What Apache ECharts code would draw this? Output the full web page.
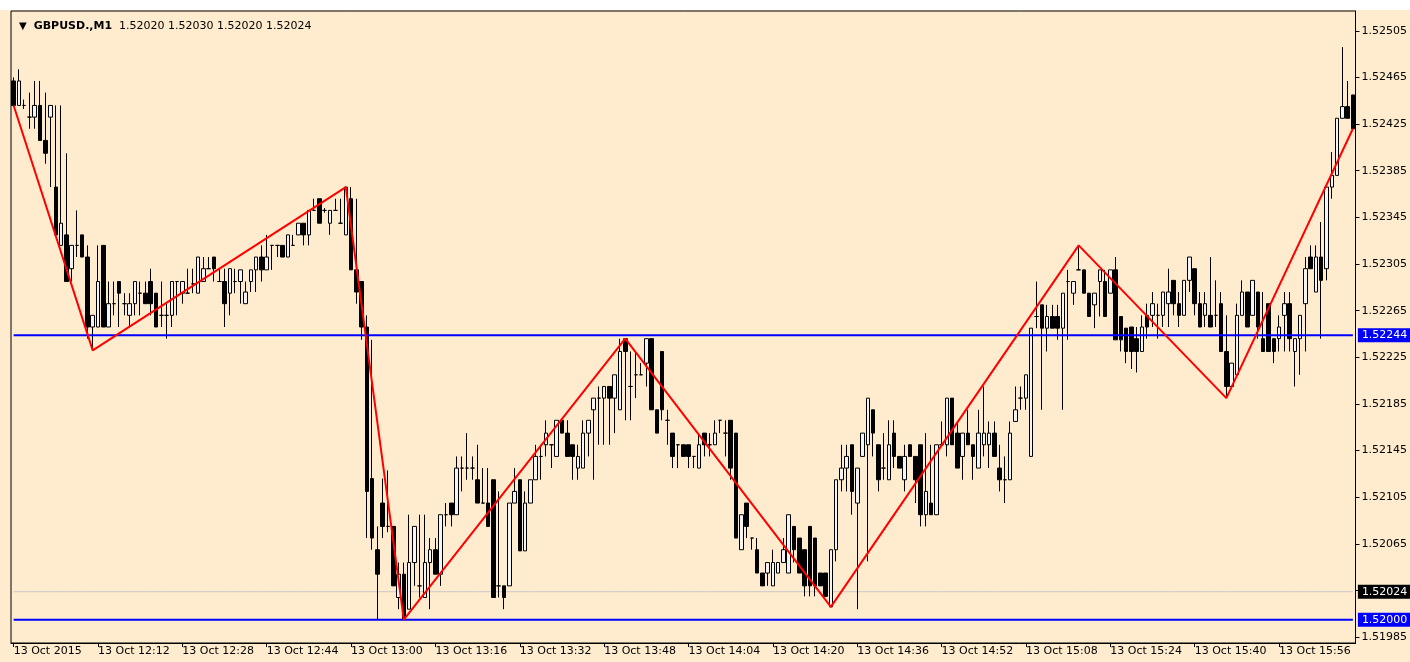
<!DOCTYPE html>
<html lang="en">
  <head>
    <meta charset="UTF-8">
    <title>GBPUSD M1</title>
    <script src="https://cdn.jsdelivr.net/npm/echarts@6/dist/echarts.min.js"></script>
    <style>
      html, body { margin: 0; padding: 0; background: #ffffff; }
    </style>
  </head>
  <body>
    <div id="main" style="width: 1410px;height:662px;"></div>
    <script type="text/javascript">
      // one bar per minute, 13 Oct 2015 11:56 .. 16:10
      var openP = [
        1.52462,1.52441,1.52441,1.52431,1.52431,1.52441,1.52411,1.52431,1.52371,1.52321,
        1.52330,1.52301,1.52321,1.52330,1.52311,1.52251,1.52251,1.52321,1.52251,1.52271,
        1.52290,1.52271,1.52261,1.52271,1.52280,1.52280,1.52290,1.52280,1.52261,1.52261,
        1.52261,1.52290,1.52280,1.52280,1.52288,1.52280,1.52290,1.52301,1.52311,1.52290,
        1.52290,1.52280,1.52290,1.52290,1.52271,1.52290,1.52300,1.52311,1.52300,1.52321,
        1.52321,1.52321,1.52311,1.52321,1.52330,1.52340,1.52330,1.52351,1.52361,1.52351,
        1.52340,1.52351,1.52340,1.52330,1.52361,1.52300,1.52290,1.52251,1.52121,1.52060,
        1.52100,1.52080,1.52080,1.52019,1.52039,1.52009,1.52049,1.52029,1.52019,1.52049,
        1.52060,1.52039,1.52090,1.52100,1.52090,1.52130,1.52130,1.52130,1.52120,1.52100,
        1.52100,1.52120,1.52029,1.52029,1.52029,1.52100,1.52120,1.52059,1.52100,1.52120,
        1.52140,1.52150,1.52150,1.52140,1.52171,1.52160,1.52150,1.52130,1.52130,1.52160,
        1.52180,1.52190,1.52190,1.52200,1.52190,1.52180,1.52241,1.52200,1.52210,1.52210,
        1.52220,1.52241,1.52180,1.52230,1.52171,1.52160,1.52150,1.52150,1.52150,1.52140,
        1.52130,1.52160,1.52150,1.52150,1.52171,1.52160,1.52171,1.52160,1.52060,1.52100,
        1.52070,1.52060,1.52040,1.52040,1.52029,1.52040,1.52049,1.52040,1.52080,1.52070,
        1.52060,1.52080,1.52070,1.52040,1.52040,1.52011,1.52060,1.52120,1.52130,1.52150,
        1.52100,1.52140,1.52150,1.52180,1.52150,1.52130,1.52120,1.52160,1.52140,1.52120,
        1.52150,1.52140,1.52150,1.52090,1.52100,1.52090,1.52150,1.52150,1.52190,1.52160,
        1.52140,1.52160,1.52150,1.52130,1.52150,1.52150,1.52160,1.52130,1.52120,1.52120,
        1.52170,1.52190,1.52190,1.52140,1.52260,1.52270,1.52250,1.52260,1.52260,1.52250,
        1.52290,1.52280,1.52300,1.52300,1.52280,1.52270,1.52290,1.52290,1.52280,1.52300,
        1.52260,1.52250,1.52251,1.52241,1.52230,1.52261,1.52261,1.52261,1.52261,1.52271,
        1.52291,1.52271,1.52261,1.52291,1.52301,1.52271,1.52261,1.52261,1.52261,1.52271,
        1.52230,1.52200,1.52210,1.52261,1.52281,1.52261,1.52281,1.52241,1.52271,1.52241,
        1.52241,1.52261,1.52271,1.52230,1.52241,1.52271,1.52311,1.52281,1.52311,1.52301,
        1.52371,1.52381,1.52430,1.52440,1.52450
      ];
      var highP = [
        1.52465,1.52472,1.52446,1.52452,1.52462,1.52462,1.52452,1.52441,1.52441,1.52441,
        1.52400,1.52321,1.52351,1.52330,1.52321,1.52261,1.52321,1.52321,1.52290,1.52290,
        1.52290,1.52280,1.52280,1.52290,1.52290,1.52290,1.52301,1.52280,1.52290,1.52271,
        1.52290,1.52290,1.52290,1.52301,1.52301,1.52311,1.52311,1.52311,1.52311,1.52301,
        1.52301,1.52301,1.52301,1.52300,1.52290,1.52300,1.52311,1.52321,1.52330,1.52321,
        1.52321,1.52321,1.52330,1.52330,1.52340,1.52340,1.52351,1.52361,1.52361,1.52353,
        1.52351,1.52361,1.52361,1.52371,1.52371,1.52361,1.52290,1.52261,1.52240,1.52080,
        1.52121,1.52128,1.52080,1.52049,1.52049,1.52090,1.52080,1.52090,1.52090,1.52070,
        1.52070,1.52090,1.52100,1.52100,1.52140,1.52140,1.52160,1.52140,1.52150,1.52130,
        1.52130,1.52120,1.52110,1.52029,1.52100,1.52130,1.52120,1.52110,1.52120,1.52150,
        1.52150,1.52171,1.52150,1.52171,1.52171,1.52171,1.52150,1.52150,1.52171,1.52171,
        1.52190,1.52200,1.52200,1.52200,1.52210,1.52241,1.52241,1.52230,1.52230,1.52220,
        1.52241,1.52241,1.52180,1.52230,1.52180,1.52160,1.52150,1.52150,1.52150,1.52140,
        1.52160,1.52160,1.52160,1.52171,1.52171,1.52171,1.52171,1.52160,1.52090,1.52100,
        1.52070,1.52070,1.52040,1.52049,1.52060,1.52049,1.52070,1.52090,1.52080,1.52070,
        1.52060,1.52080,1.52070,1.52040,1.52040,1.52060,1.52120,1.52150,1.52150,1.52150,
        1.52130,1.52160,1.52190,1.52180,1.52150,1.52160,1.52171,1.52171,1.52140,1.52150,
        1.52150,1.52140,1.52150,1.52160,1.52150,1.52150,1.52170,1.52190,1.52190,1.52170,
        1.52160,1.52180,1.52150,1.52180,1.52200,1.52170,1.52170,1.52150,1.52140,1.52170,
        1.52200,1.52200,1.52210,1.52250,1.52290,1.52270,1.52270,1.52270,1.52270,1.52280,
        1.52300,1.52290,1.52321,1.52300,1.52280,1.52280,1.52300,1.52300,1.52300,1.52311,
        1.52260,1.52250,1.52251,1.52251,1.52261,1.52271,1.52281,1.52271,1.52281,1.52301,
        1.52291,1.52281,1.52291,1.52311,1.52301,1.52281,1.52281,1.52311,1.52291,1.52281,
        1.52261,1.52220,1.52271,1.52291,1.52281,1.52291,1.52281,1.52281,1.52271,1.52241,
        1.52261,1.52281,1.52281,1.52241,1.52261,1.52311,1.52321,1.52321,1.52341,1.52371,
        1.52401,1.52430,1.52491,1.52462,1.52450
      ];
      var lowP = [
        1.52441,1.52441,1.52438,1.52421,1.52421,1.52411,1.52391,1.52371,1.52330,1.52321,
        1.52290,1.52290,1.52311,1.52311,1.52241,1.52231,1.52251,1.52251,1.52251,1.52261,
        1.52251,1.52261,1.52251,1.52261,1.52261,1.52271,1.52261,1.52251,1.52251,1.52241,
        1.52251,1.52261,1.52271,1.52280,1.52280,1.52280,1.52290,1.52301,1.52290,1.52290,
        1.52251,1.52261,1.52280,1.52271,1.52271,1.52281,1.52281,1.52290,1.52300,1.52300,
        1.52311,1.52311,1.52311,1.52321,1.52330,1.52321,1.52321,1.52351,1.52340,1.52349,
        1.52330,1.52351,1.52340,1.52330,1.52300,1.52271,1.52240,1.52070,1.52060,1.52000,
        1.52070,1.52075,1.52029,1.52009,1.52000,1.52009,1.52029,1.52019,1.52019,1.52009,
        1.52039,1.52029,1.52080,1.52080,1.52090,1.52110,1.52120,1.52120,1.52100,1.52100,
        1.52080,1.52019,1.52019,1.52009,1.52029,1.52100,1.52059,1.52059,1.52100,1.52120,
        1.52120,1.52140,1.52130,1.52140,1.52160,1.52140,1.52120,1.52120,1.52130,1.52140,
        1.52120,1.52150,1.52150,1.52150,1.52160,1.52180,1.52171,1.52171,1.52190,1.52210,
        1.52200,1.52180,1.52160,1.52171,1.52150,1.52130,1.52130,1.52140,1.52130,1.52130,
        1.52130,1.52140,1.52140,1.52150,1.52160,1.52140,1.52120,1.52070,1.52060,1.52070,
        1.52060,1.52040,1.52029,1.52029,1.52029,1.52040,1.52049,1.52040,1.52049,1.52040,
        1.52020,1.52020,1.52020,1.52029,1.52020,1.52011,1.52050,1.52110,1.52110,1.52090,
        1.52009,1.52140,1.52050,1.52140,1.52110,1.52120,1.52120,1.52130,1.52130,1.52110,
        1.52140,1.52100,1.52080,1.52080,1.52090,1.52090,1.52150,1.52140,1.52150,1.52130,
        1.52120,1.52150,1.52120,1.52130,1.52140,1.52130,1.52140,1.52110,1.52100,1.52120,
        1.52170,1.52180,1.52180,1.52140,1.52250,1.52180,1.52230,1.52250,1.52240,1.52180,
        1.52240,1.52270,1.52300,1.52280,1.52260,1.52250,1.52260,1.52260,1.52280,1.52240,
        1.52230,1.52220,1.52215,1.52212,1.52230,1.52241,1.52251,1.52241,1.52251,1.52251,
        1.52261,1.52251,1.52261,1.52281,1.52261,1.52251,1.52251,1.52251,1.52251,1.52230,
        1.52190,1.52200,1.52210,1.52261,1.52251,1.52261,1.52241,1.52230,1.52230,1.52220,
        1.52230,1.52230,1.52230,1.52200,1.52210,1.52230,1.52301,1.52281,1.52241,1.52291,
        1.52361,1.52381,1.52430,1.52430,1.52421
      ];
      var closeP = [
        1.52441,1.52462,1.52441,1.52431,1.52441,1.52411,1.52400,1.52441,1.52330,1.52340,
        1.52290,1.52321,1.52321,1.52311,1.52251,1.52261,1.52290,1.52251,1.52271,1.52271,
        1.52280,1.52271,1.52271,1.52290,1.52280,1.52271,1.52271,1.52251,1.52261,1.52261,
        1.52290,1.52290,1.52290,1.52280,1.52288,1.52311,1.52301,1.52301,1.52301,1.52290,
        1.52271,1.52301,1.52290,1.52300,1.52281,1.52300,1.52311,1.52300,1.52311,1.52321,
        1.52321,1.52311,1.52330,1.52321,1.52340,1.52330,1.52351,1.52351,1.52340,1.52351,
        1.52351,1.52351,1.52340,1.52371,1.52300,1.52281,1.52251,1.52110,1.52070,1.52039,
        1.52080,1.52080,1.52029,1.52039,1.52000,1.52049,1.52080,1.52029,1.52049,1.52060,
        1.52039,1.52090,1.52090,1.52090,1.52130,1.52130,1.52130,1.52130,1.52100,1.52100,
        1.52080,1.52019,1.52029,1.52019,1.52100,1.52110,1.52059,1.52100,1.52120,1.52140,
        1.52140,1.52160,1.52150,1.52171,1.52160,1.52140,1.52140,1.52140,1.52160,1.52171,
        1.52190,1.52190,1.52200,1.52190,1.52210,1.52230,1.52230,1.52200,1.52210,1.52210,
        1.52241,1.52180,1.52160,1.52180,1.52171,1.52140,1.52150,1.52140,1.52140,1.52140,
        1.52150,1.52150,1.52150,1.52160,1.52171,1.52160,1.52130,1.52070,1.52090,1.52080,
        1.52070,1.52040,1.52029,1.52049,1.52049,1.52049,1.52060,1.52090,1.52060,1.52040,
        1.52029,1.52029,1.52029,1.52029,1.52020,1.52060,1.52120,1.52130,1.52140,1.52110,
        1.52130,1.52160,1.52190,1.52160,1.52120,1.52130,1.52150,1.52140,1.52130,1.52140,
        1.52140,1.52120,1.52090,1.52110,1.52090,1.52150,1.52150,1.52190,1.52150,1.52130,
        1.52160,1.52150,1.52140,1.52160,1.52160,1.52160,1.52140,1.52120,1.52120,1.52160,
        1.52180,1.52190,1.52210,1.52250,1.52260,1.52250,1.52260,1.52250,1.52250,1.52280,
        1.52290,1.52290,1.52300,1.52280,1.52260,1.52280,1.52300,1.52260,1.52300,1.52240,
        1.52240,1.52230,1.52230,1.52230,1.52251,1.52251,1.52271,1.52261,1.52281,1.52281,
        1.52271,1.52261,1.52291,1.52311,1.52271,1.52251,1.52271,1.52251,1.52261,1.52230,
        1.52200,1.52220,1.52261,1.52281,1.52251,1.52291,1.52251,1.52230,1.52230,1.52230,
        1.52251,1.52271,1.52241,1.52241,1.52261,1.52301,1.52301,1.52311,1.52291,1.52371,
        1.52381,1.52430,1.52440,1.52430,1.52421
      ];

      // zigzag turning points: bar index and price
      var zzIndex = [0, 15, 63, 74, 116, 155, 202, 230, 254];
      var zzPrice = [1.52441, 1.52231, 1.52371, 1.52000, 1.52241, 1.52011, 1.52321, 1.52190, 1.52421];

      // horizontal levels
      var blueLevels = [1.52244, 1.52000];
      var bidLevel = 1.52024;

      // right scale labels
      var priceTicks = [1.52505, 1.52465, 1.52425, 1.52385, 1.52345, 1.52305, 1.52265,
                        1.52225, 1.52185, 1.52145, 1.52105, 1.52065, 1.52025, 1.51985];

      var header = ['GBPUSD.,M1', '1.52020', '1.52030', '1.52020', '1.52024'];

      // minute categories
      var times = [];
      for (var i = 0; i < openP.length; i++) {
        var m = 11 * 60 + 56 + i;
        var hh = Math.floor(m / 60), mm = m % 60;
        times.push((hh < 10 ? '0' : '') + hh + ':' + (mm < 10 ? '0' : '') + mm);
      }

      var candles = [];
      for (var i = 0; i < openP.length; i++) {
        candles.push([openP[i], closeP[i], lowP[i], highP[i]]);
      }

      var zz = [];
      for (var i = 0; i < openP.length; i++) zz.push(null);
      for (var k = 0; k < zzIndex.length; k++) zz[zzIndex[k]] = zzPrice[k];

      var FONT = 'DejaVu Sans';
      var BG = '#ffebcd';

      // horizontal price level drawn as its own flat line series, price box at its end
      function levelSeries(v, lineColor, width, boxColor, z) {
        var d = [];
        for (var i = 0; i < openP.length; i++) d.push(v);
        return {
          type: 'line',
          data: d,
          symbol: 'none',
          silent: true,
          z: z,
          lineStyle: {color: lineColor, width: width},
          endLabel: {
            show: true,
            distance: 5,
            formatter: v.toFixed(5),
            color: '#ffffff',
            backgroundColor: boxColor,
            padding: [2, 4, 1, 4],
            fontFamily: FONT,
            fontSize: 11
          }
        };
      }

      var myChart = echarts.init(document.getElementById('main'));

      var series = [
        levelSeries(bidLevel, '#c8c8c8', 1, '#000000', 1),
        {
          name: 'GBPUSD',
          type: 'candlestick',
          data: candles,
          barWidth: 4,
          z: 2,
          itemStyle: {
            color: '#f4f4f4',
            color0: '#000000',
            borderColor: '#000000',
            borderColor0: '#000000',
            borderWidth: 1
          }
        }
      ];
      blueLevels.forEach(function (v) { series.push(levelSeries(v, '#0000ff', 2, '#0000ff', 3)); });
      series.push({
        name: 'ZigZag',
        type: 'line',
        data: zz,
        connectNulls: true,
        symbol: 'none',
        lineStyle: {color: '#ff0000', width: 2},
        z: 4
      });

      var option = {
        animation: false,
        backgroundColor: BG,
        title: {
          left: 14,
          top: 16,
          text: '{t|▼}  {n|' + header[0] + '}  ' + header.slice(1).join(' '),
          textStyle: {
            fontFamily: FONT,
            fontSize: 11,
            fontWeight: 'normal',
            color: '#000000',
            rich: {
              t: {fontSize: 10, color: '#000000'},
              n: {fontFamily: FONT, fontSize: 11, fontWeight: 'bold', color: '#000000'}
            }
          }
        },
        graphic: [
          {type: 'rect', left: 0, top: 0, shape: {width: 1410, height: 10}, style: {fill: '#ffffff'}, silent: true}
        ],
        grid: {
          left: 11,
          right: 54,
          top: 11,
          bottom: 19,
          show: true,
          borderColor: '#000000',
          borderWidth: 1,
          backgroundColor: BG
        },
        xAxis: {
          type: 'category',
          data: times,
          boundaryGap: true,
          axisLine: {show: true, lineStyle: {color: '#000000'}},
          axisTick: {show: true, interval: 15, alignWithLabel: true, length: 4, lineStyle: {color: '#000000'}},
          axisLabel: {
            interval: 15,
            align: 'left',
            margin: 3,
            fontFamily: FONT,
            fontSize: 11,
            color: '#000000',
            formatter: function (val, idx) {
              return idx === 0 ? '13 Oct 2015' : '13 Oct ' + val;
            }
          },
          splitLine: {show: false}
        },
        yAxis: {
          type: 'value',
          position: 'right',
          min: 1.51980,
          max: 1.52522,
          scale: true,
          axisLine: {show: true, lineStyle: {color: '#000000'}},
          axisTick: {show: true, length: 4, customValues: priceTicks, lineStyle: {color: '#000000'}},
          axisLabel: {
            customValues: priceTicks,
            margin: 6,
            fontFamily: FONT,
            fontSize: 11,
            color: '#000000',
            formatter: function (v) { return v.toFixed(5); }
          },
          splitLine: {show: false}
        },
        series: series
      };

      myChart.setOption(option);
    </script>
  </body>
</html>
